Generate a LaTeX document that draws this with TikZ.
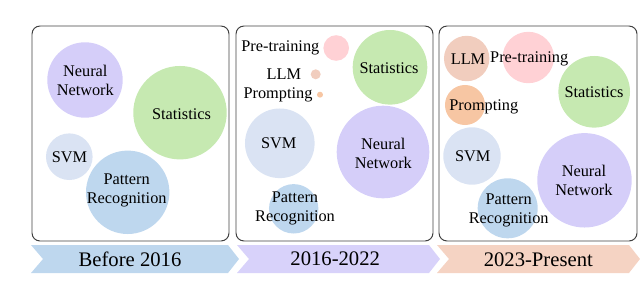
\documentclass[tikz,border=0pt]{standalone}
\usepackage{fontspec}
\setmainfont{Liberation Serif}
\usepackage{xcolor}
\usetikzlibrary{positioning}
\definecolor{nnFill}{HTML}{D5CEF9}
\definecolor{statFill}{HTML}{C6E9B1}
\definecolor{svmFill}{HTML}{DAE3F3}
\definecolor{prFill}{HTML}{BED7EE}
\definecolor{ptFill}{HTML}{FFD1D5}
\definecolor{llmFill}{HTML}{F1CDBE}
\definecolor{prmFill}{HTML}{F7C6A3}
\definecolor{eraA}{HTML}{BED7EE}
\definecolor{eraB}{HTML}{D8D2FA}
\definecolor{eraC}{HTML}{F5D3C3}
\newcommand{\bubblefont}{\fontsize{11.6}{13.5}\selectfont}
\newcommand{\erafont}{\fontsize{14.7}{16}\selectfont}

\begin{document}
\begin{tikzpicture}[x=0.025cm, y=-0.025cm,
    bubble/.style={circle, inner sep=0pt, minimum size=#1*0.05cm},
    lab/.style={inner sep=0pt, align=center, font=\bubblefont},
    era/.style={inner sep=0pt, font=\erafont},
    panel/.style={draw=black!75, line width=0.7pt, rounded corners=0.2cm}]
      \useasboundingbox (0,0) rectangle (640,303);

      % Three panels, one per period
      \draw[panel] (32,26) rectangle (229,241);
      \draw[panel] (236,26) rectangle (433,241);
      \draw[panel] (439,26) rectangle (637,241);

      % Timeline chevrons
      \fill[eraA] (31,245) -- (228,245) -- (239,259) -- (228,273) -- (31,273) -- (43,259) -- cycle;
      \fill[eraB] (237,245) -- (429,245) -- (440,259) -- (429,273) -- (237,273) -- (249,259) -- cycle;
      \fill[eraC] (437,245) -- (629,245) -- (640,259) -- (629,273) -- (437,273) -- (449,259) -- cycle;
      \node[era] (tA) at (130,259) {Before 2016};
      \node[era] (tB) at (335.2,258.5) {2016-2022};
      \node[era] (tC) at (538.3,259.5) {2023-Present};

      % Before 2016
      \node[bubble=37.7, fill=nnFill] (nnA) at (85,80) {};
      \node[bubble=46.7, fill=statFill] (statA) at (180,112.7) {};
      \node[bubble=23.3, fill=svmFill] (svmA) at (69.3,156.7) {};
      \node[bubble=41.7, fill=prFill] (prA) at (127.7,192.3) {};
      \node[lab] (nnAt) at (85.3,80.5) {Neural\\Network};
      \node[lab] (statAt) at (181.5,114) {Statistics};
      \node[lab] (svmAt) at (69.5,157.5) {SVM};
      \node[lab] (prAt) at (126.7,190.5) {Pattern\\Recognition};

      % 2016-2022
      \node[bubble=12.8, fill=ptFill] (ptB) at (336.2,48) {};
      \node[bubble=5, fill=llmFill] (llmB) at (315.7,74.3) {};
      \node[bubble=3, fill=prmFill] (prmB) at (320,94.7) {};
      \node[bubble=37.3, fill=statFill] (statB) at (390,67.3) {};
      \node[bubble=34.8, fill=svmFill] (svmB) at (279.8,143.3) {};
      \node[bubble=46.3, fill=nnFill] (nnB) at (383,152) {};
      \node[bubble=24.7, fill=prFill] (prB) at (293.7,208.8) {};
      \node[lab, left=3.5 of ptB.west] (ptBt) {Pre-training};
      \node[lab, left=9 of llmB.west] (llmBt) {LLM};
      \node[lab, left=4 of prmB.west] (prmBt) {Prompting};
      \node[lab] (statBt) at (389,68) {Statistics};
      \node[lab] (svmBt) at (278.8,143.5) {SVM};
      \node[lab] (nnBt) at (383.3,153) {Neural\\Network};
      \node[lab] (prBt) at (295,208) {Pattern\\Recognition};

      % 2023-Present
      \node[bubble=22.7, fill=llmFill] (llmC) at (466.7,58.5) {};
      \node[bubble=25.7, fill=ptFill] (ptC) at (528.3,57.5) {};
      \node[bubble=20, fill=prmFill] (prmC) at (465,105) {};
      \node[bubble=35.8, fill=statFill] (statC) at (594.2,91.8) {};
      \node[bubble=28.7, fill=svmFill] (svmC) at (472,156) {};
      \node[bubble=47.2, fill=nnFill] (nnC) at (584.5,180.3) {};
      \node[bubble=30, fill=prFill] (prC) at (507.7,208.3) {};
      \node[lab] (llmCt) at (468,59.5) {LLM};
      \node[lab] (ptCt) at (529.2,58.5) {Pre-training};
      \node[lab] (prmCt) at (483.8,107) {Prompting};
      \node[lab] (statCt) at (594,92) {Statistics};
      \node[lab] (svmCt) at (472.7,156) {SVM};
      \node[lab] (nnCt) at (584,180) {Neural\\Network};
      \node[lab] (prCt) at (508.7,210) {Pattern\\Recognition};
\end{tikzpicture}
\end{document}
